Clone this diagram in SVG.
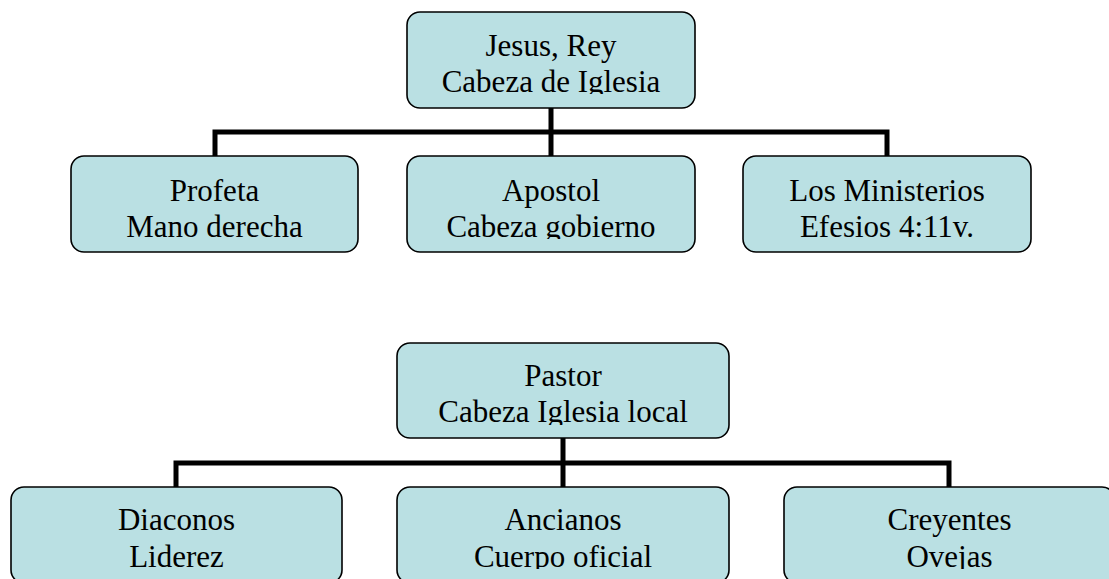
<svg xmlns="http://www.w3.org/2000/svg" width="1109" height="579" viewBox="0 0 1109 579">
<style>
.box{fill:#BAE0E3;stroke:#000;stroke-width:1.6}
.t{font-family:"Liberation Serif","Times New Roman",serif;font-size:31px;fill:#000;text-anchor:middle}
.c{fill:none;stroke:#000;stroke-width:5;stroke-linecap:butt}
</style>
<defs>
<clipPath id="cj"><rect x="407" y="12" width="288" height="82"/></clipPath>
<clipPath id="cp"><rect x="71" y="156" width="287" height="83"/></clipPath>
<clipPath id="ca"><rect x="407" y="156" width="288" height="83"/></clipPath>
<clipPath id="cm"><rect x="743" y="156" width="288" height="83"/></clipPath>
<clipPath id="cs"><rect x="397" y="343" width="332" height="82"/></clipPath>
<clipPath id="cd"><rect x="11" y="487" width="331" height="82"/></clipPath>
<clipPath id="cn"><rect x="397" y="487" width="332" height="82"/></clipPath>
<clipPath id="cc"><rect x="784" y="487" width="331" height="82"/></clipPath>
</defs>
<rect width="1109" height="579" fill="#fff"/>
<g id="connectors">
<path class="c" d="M551,108 V156 M215,156 V132 H887 V156"/>
<path class="c" d="M563,438 V487 M176,487 V463 H949 V487"/>
</g>
<g id="jesus">
<rect class="box" x="407" y="12" width="288" height="96" rx="13"/>
<g clip-path="url(#cj)"><text class="t" x="551" y="56">Jesus, Rey</text><text class="t" x="551" y="92">Cabeza de Iglesia</text></g>
</g>
<g id="profeta">
<rect class="box" x="71" y="156" width="287" height="96" rx="13"/>
<g clip-path="url(#cp)"><text class="t" x="214.5" y="201">Profeta</text><text class="t" x="214.5" y="237">Mano derecha</text></g>
</g>
<g id="apostol">
<rect class="box" x="407" y="156" width="288" height="96" rx="13"/>
<g clip-path="url(#ca)"><text class="t" x="551" y="201">Apostol</text><text class="t" x="551" y="237">Cabeza gobierno</text></g>
</g>
<g id="ministerios">
<rect class="box" x="743" y="156" width="288" height="96" rx="13"/>
<g clip-path="url(#cm)"><text class="t" x="887" y="201">Los Ministerios</text><text class="t" x="887" y="237">Efesios 4:11v.</text></g>
</g>
<g id="pastor">
<rect class="box" x="397" y="343" width="332" height="95" rx="13"/>
<g clip-path="url(#cs)"><text class="t" x="563" y="386">Pastor</text><text class="t" x="563" y="422">Cabeza Iglesia local</text></g>
</g>
<g id="diaconos">
<rect class="box" x="11" y="487" width="331" height="96" rx="13"/>
<g clip-path="url(#cd)"><text class="t" x="176.5" y="530">Diaconos</text><text class="t" x="176.5" y="567">Liderez</text></g>
</g>
<g id="ancianos">
<rect class="box" x="397" y="487" width="332" height="96" rx="13"/>
<g clip-path="url(#cn)"><text class="t" x="563" y="530">Ancianos</text><text class="t" x="563" y="567">Cuerpo oficial</text></g>
</g>
<g id="creyentes">
<rect class="box" x="784" y="487" width="331" height="96" rx="13"/>
<g clip-path="url(#cc)"><text class="t" x="949.5" y="530">Creyentes</text><text class="t" x="949.5" y="567">Ovejas</text></g>
</g>
</svg>
